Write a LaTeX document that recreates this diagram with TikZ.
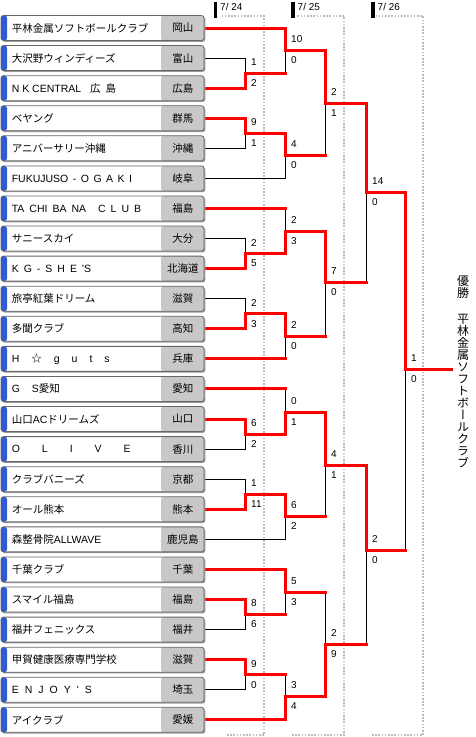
\documentclass[tikz,border=0pt]{standalone}
\usepackage{fontspec}
\setmainfont{Noto Sans CJK JP}
\newfontfamily\lat{Liberation Sans}
\newfontfamily\jpv[RawFeature=+vert]{Noto Sans CJK JP}
\usepackage{tikz}
\usetikzlibrary{shadows}
\definecolor{tbBlue}{HTML}{2F5BD0}
\definecolor{tbPref}{HTML}{C8C8C8}
\definecolor{tbEdge}{HTML}{666666}
\definecolor{tbShade}{HTML}{9A9A9A}
\definecolor{tbWin}{HTML}{FF0000}
\definecolor{tbDot}{HTML}{BDBDBD}
\pgfdeclarelayer{back}
\pgfsetlayers{back,main}

\begin{document}
\begin{tikzpicture}[
  x=1pt, y=-1pt,
  team/.style={draw=tbEdge, line width=0.8pt, fill=white, rounded corners=2.5pt, minimum width=203pt, minimum height=25pt, inner sep=0pt,
    drop shadow={shadow xshift=1.3pt, shadow yshift=-1.3pt, fill=tbShade, opacity=1},
    path picture={
      \fill[tbPref] ([xshift=-43pt]path picture bounding box.north east) rectangle (path picture bounding box.south east);
      \fill[tbBlue] (path picture bounding box.north west) rectangle ([xshift=6pt]path picture bounding box.south west);
    }},
  tname/.style={anchor=west, inner sep=1pt, font=\fontsize{10.5}{12}\selectfont},
  pref/.style={inner sep=1pt, font=\fontsize{10.5}{12}\selectfont},
  sc/.style={anchor=west, inner sep=1pt, font=\lat\fontsize{10}{12}\selectfont},
  datehd/.style={anchor=west, inner sep=0pt, font=\lat\fontsize{10}{12}\selectfont},
  win/.style={draw=tbWin, line width=3pt, line cap=rect},
  lose/.style={draw=black, line width=0.9pt},
  dotframe/.style={draw=tbDot, line width=1.6pt, dash pattern=on 1.6pt off 1.6pt},
  champ/.style={align=center, inner sep=0pt, font=\jpv\fontsize{12}{12}\selectfont},
]
\useasboundingbox (0,0) rectangle (475,737);
% teams
\foreach \i/\nm/\pf in {
  1/平林金属ソフトボールクラブ/岡山,
  2/大沢野ウィンディーズ/富山,
  3/{{\lat N K CENTRAL}\hskip 9pt 広\hskip 5pt 島}/広島,
  4/ベヤング/群馬,
  5/アニバーサリー沖縄/沖縄,
  6/{{\lat\spaceskip=4.5pt FUKUJUSO - O G A K I}}/岐阜,
  7/{{\lat\spaceskip=5pt TA CHI BA NA\hskip 12pt C L U B}}/福島,
  8/サニースカイ/大分,
  9/{{\lat\spaceskip=5pt K G - S H E 'S}}/北海道,
  10/旅亭紅葉ドリーム/滋賀,
  11/多聞クラブ/高知,
  12/{{\lat H}\hskip 12pt ☆\hskip 12pt{\lat\spaceskip=12pt g u t s}}/兵庫,
  13/{{\lat G}\hskip 12pt{\lat S}愛知}/愛知,
  14/{山口{\lat AC}ドリームズ}/山口,
  15/{{\lat\spaceskip=22pt O L I V E}}/香川,
  16/クラブバニーズ/京都,
  17/オール熊本/熊本,
  18/{森整骨院{\lat ALLWAVE}}/鹿児島,
  19/千葉クラブ/千葉,
  20/スマイル福島/福島,
  21/福井フェニックス/福井,
  22/甲賀健康医療専門学校/滋賀,
  23/{{\lat\spaceskip=6pt E N J O Y ' S}}/埼玉,
  24/アイクラブ/愛媛}{
  \node[team] (t\i) at (102.5,{28+30.08*(\i-1)}) {};
  \node[tname] (n\i) at ([xshift=10pt]t\i.west) {\nm};
  \node[pref] (p\i) at ([xshift=-21.5pt]t\i.east) {\pf};
}
% match points, round by round
\coordinate (a1) at (245,73.1);
\coordinate (a2) at (245,133.2);
\coordinate (a3) at (245,253.6);
\coordinate (a4) at (245,313.8);
\coordinate (a5) at (245,434);
\coordinate (a6) at (245,494.2);
\coordinate (a7) at (245,614.5);
\coordinate (a8) at (245,674.7);
\coordinate (b1) at (285,50.5);
\coordinate (b2) at (285,155);
\coordinate (b3) at (285,231.5);
\coordinate (b4) at (285,336);
\coordinate (b5) at (285,412);
\coordinate (b6) at (285,516.5);
\coordinate (b7) at (285,592);
\coordinate (b8) at (285,696.5);
\coordinate (c1) at (325,103);
\coordinate (c2) at (325,282.5);
\coordinate (c3) at (325,465);
\coordinate (c4) at (325,644.5);
\coordinate (d1) at (366,192.5);
\coordinate (d2) at (366,550);
\coordinate (f) at (405,369.5);
\coordinate (fin) at (451,369.5);
% dates
\foreach \k/\xb/\dt in {1/213.5/24, 2/291/25, 3/371/26}{
  \fill (\xb,2) rectangle ++(3.5,15.5);
  \node[datehd] (day\k) at (\xb+6.5,6.5) {7/ \dt};
}
\begin{pgfonlayer}{back}
\foreach \xl/\xt/\xr in {227/220/264, 292/297/344, 372/376/423}
  \draw[dotframe] (\xl,735) -- (\xr,735) -- (\xr,16) -- (\xt,16);
% losers
\foreach \s/\j in {t2.east/a1, t5.east/a2, t8.east/a3, t10.east/a4, t15.east/a5, t16.east/a6, t21.east/a7, t23.east/a8, t6.east/b2, t18.east/b6}
  \draw[lose] (\s) -| (\j);
% red feed, lost there
\foreach \s/\j in {a1/b1, t7.east/b3, t12.east/b4, t13.east/b5, a7/b7, a8/b8, b2/c1, b4/c2, b6/c3, b7/c4, c2/d1, c4/d2, d2/f}{
  \draw[lose] (\s -| \j) -- (\j);
  \draw[win] (\s) -- (\s -| \j);
}
% winners
\foreach \s/\j in {t3.east/a1, t4.east/a2, t9.east/a3, t11.east/a4, t14.east/a5, t17.east/a6, t20.east/a7, t22.east/a8, t1.east/b1, a2/b2, a3/b3, a4/b4, a5/b5, a6/b6, t19.east/b7, t24.east/b8, b1/c1, b3/c2, b5/c3, b8/c4, c1/d1, c3/d2, d1/f}
  \draw[win] (\s) -| (\j);
\draw[win] (f) -- (fin);
\end{pgfonlayer}
% scores
\foreach \j/\u/\l in {a1/1/2, a2/9/1, a3/2/5, a4/2/3, a5/6/2, a6/1/11, a7/8/6, a8/9/0, b1/10/0, b2/4/0, b3/2/3, b4/2/0, b5/0/1, b6/6/2, b7/5/3, b8/3/4, c1/2/1, c2/7/0, c3/4/1, c4/2/9, d1/14/0, d2/2/0, f/1/0}{
  \node[sc] (\j-up) at ([xshift=5pt,yshift=11pt]\j) {\u};
  \node[sc] (\j-dn) at ([xshift=5pt,yshift=-10pt]\j) {\l};
}
\node[champ] (champ) at (463,372) {優\\勝\\[14pt]平\\林\\金\\属\\ソ\\フ\\ト\\ボ\\ー\\ル\\ク\\ラ\\ブ};
\end{tikzpicture}
\end{document}
